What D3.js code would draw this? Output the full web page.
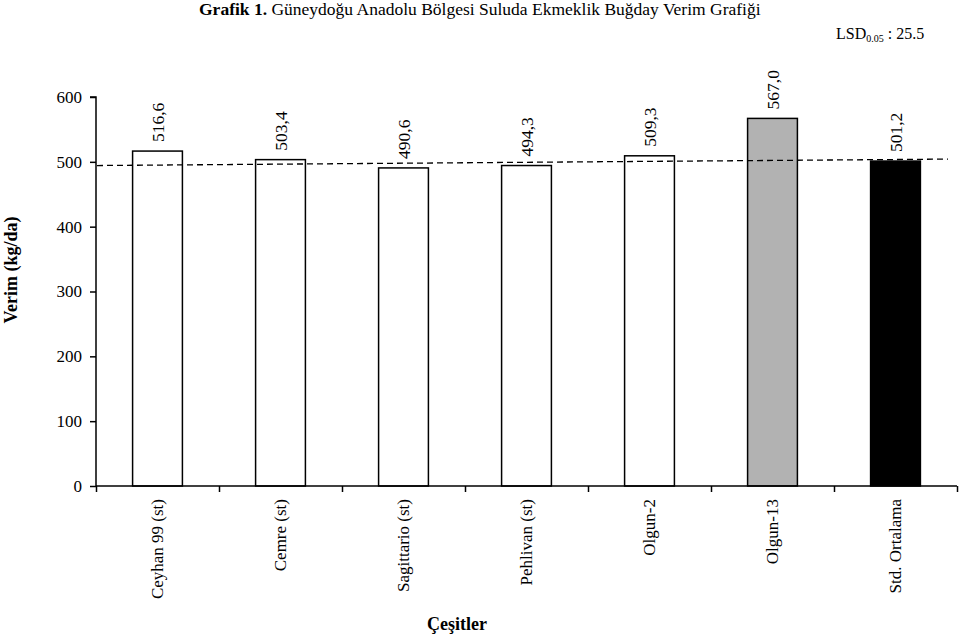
<!DOCTYPE html>
<html>
<head>
<meta charset="utf-8">
<script src="https://cdn.jsdelivr.net/npm/d3@7"></script>
<style>
  html, body { margin: 0; padding: 0; background: #fff; }
  svg { display: block; font-family: "Liberation Serif", "Times New Roman", serif; }
</style>
</head>
<body>
<svg id="chart" width="960" height="635"></svg>
<script>
// ---- data ----
const categories = ["Ceyhan 99 (st)", "Cemre (st)", "Sagittario (st)", "Pehlivan (st)", "Olgun-2", "Olgun-13", "Std. Ortalama"];
const yields = [516.6, 503.4, 490.6, 494.3, 509.3, 567.0, 501.2];
const valueLabels = ["516,6", "503,4", "490,6", "494,3", "509,3", "567,0", "501,2"];
const barFills = ["#ffffff", "#ffffff", "#ffffff", "#ffffff", "#ffffff", "#b2b2b2", "#000000"];
const yTicks = [0, 100, 200, 300, 400, 500, 600];
const refLine = [494.3, 504.2]; // dashed line values at left and right ends
const titleBold = "Grafik 1.";
const titleRest = " Güneydoğu Anadolu Bölgesi Suluda Ekmeklik Buğday Verim Grafiği";
const xTitle = "Çeşitler";
const yTitle = "Verim (kg/da)";

// ---- layout ----
const svg = d3.select("#chart");
const mLeft = 96, mRight = 957, mTop = 97, mBottom = 486;

const x = d3.scaleBand().domain(categories).range([mLeft, mRight]).padding(0);
const xb = d3.scaleLinear().domain([0, categories.length]).range([mLeft, mRight]);
const y = d3.scaleLinear().domain([0, 600]).range([mBottom, mTop]);
const barW = x.bandwidth() * 0.405;

// title
const t = svg.append("text").attr("x", 199).attr("y", 15).attr("font-size", 17.5).attr("fill", "#000");
t.append("tspan").attr("font-weight", "bold").text(titleBold);
t.append("tspan").text(titleRest);

// LSD
const l = svg.append("text").attr("x", 836).attr("y", 39).attr("font-size", 16).attr("fill", "#000");
l.append("tspan").text("LSD");
l.append("tspan").attr("font-size", 10).attr("dy", 3).text("0.05");
l.append("tspan").attr("dy", -3).text(" : 25.5");

// y axis
const yAxis = svg.append("g").attr("transform", `translate(${mLeft},0)`)
  .call(d3.axisLeft(y).tickValues(yTicks).tickFormat(d3.format("d")).tickSize(6).tickPadding(8));
yAxis.select(".domain").attr("stroke", "#000").attr("stroke-width", 1.5).attr("d", `M-6,${mTop}H0V${mBottom}`);
yAxis.selectAll(".tick line").attr("stroke", "#000").attr("stroke-width", 1.5);
yAxis.selectAll(".tick text").attr("font-size", 17).attr("font-family", "Liberation Serif").attr("fill", "#000");

// bars
svg.append("g").selectAll("rect").data(yields).join("rect")
  .attr("x", (d, i) => x(categories[i]) + x.bandwidth() / 2 - barW / 2)
  .attr("y", d => y(d))
  .attr("width", barW)
  .attr("height", d => y(0) - y(d))
  .attr("fill", (d, i) => barFills[i])
  .attr("stroke", "#000")
  .attr("stroke-width", 1.5);

// dashed reference line
svg.append("line")
  .attr("x1", mLeft + 1).attr("x2", 948)
  .attr("y1", y(refLine[0])).attr("y2", y(refLine[1]))
  .attr("stroke", "#000").attr("stroke-width", 1.3).attr("stroke-dasharray", "6,4");

// x axis
const xAxis = svg.append("g").attr("transform", `translate(0,${mBottom})`)
  .call(d3.axisBottom(xb).tickValues(d3.range(categories.length + 1)).tickFormat("").tickSize(6));
xAxis.select(".domain").attr("stroke", "#000").attr("stroke-width", 1.5).attr("d", `M${mLeft},0H${mRight}`);
xAxis.selectAll(".tick line").attr("stroke", "#000").attr("stroke-width", 1.5);

// value labels
svg.append("g").selectAll("text").data(yields).join("text")
  .attr("transform", (d, i) => `translate(${x(categories[i]) + x.bandwidth() / 2},${y(d) - 9}) rotate(-90)`)
  .attr("dy", "0.35em")
  .attr("text-anchor", "start")
  .attr("font-size", 17.5)
  .attr("fill", "#000")
  .text((d, i) => valueLabels[i]);

// category labels
svg.append("g").selectAll("text").data(categories).join("text")
  .attr("transform", d => `translate(${x(d) + x.bandwidth() / 2},${mBottom + 13}) rotate(-90)`)
  .attr("dy", "0.35em")
  .attr("text-anchor", "end")
  .attr("font-size", 17)
  .attr("fill", "#000")
  .text(d => d);

// axis titles
svg.append("text").attr("x", 457).attr("y", 630).attr("text-anchor", "middle")
  .attr("font-size", 18).attr("font-weight", "bold").text(xTitle);
svg.append("text").attr("transform", "translate(17,270) rotate(-90)")
  .attr("text-anchor", "middle").attr("font-size", 18).attr("font-weight", "bold").text(yTitle);
</script>
</body>
</html>
